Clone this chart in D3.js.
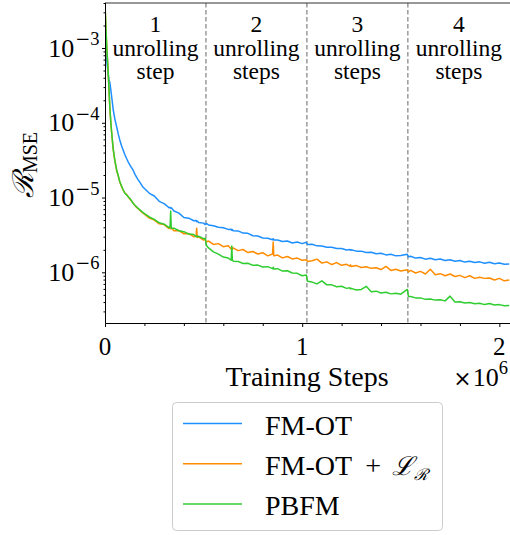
<!DOCTYPE html>
<meta charset="utf-8">
<style>
    body { margin: 0; background: #fff; }
    text { font-family: "Liberation Serif", "DejaVu Serif", serif; fill: #000; }
    .line { fill: none; stroke-width: 1.5px; stroke-linejoin: round; }
</style>
<svg width="510" height="535"></svg>
<script src="https://d3js.org/d3.v7.min.js"></script>
<script>
    // training steps, in thousands
    var steps = [
        0, 3, 6, 10, 15, 20, 25, 30, 36, 42, 50, 59, 67, 75, 83, 91, 100, 110, 120, 131, 142, 152, 165, 178, 190, 200,
        225, 250, 275, 300, 325,
        330, 333, 336, 350, 375,
        400, 425, 450, 462, 465,
        468, 475, 500, 509, 514,
        525, 550, 575, 600, 625,
        640, 643, 646, 650, 675,
        700, 725, 750, 775, 800,
        825, 850, 853, 856, 875,
        900, 925, 950, 975, 1000,
        1021, 1027, 1050, 1075, 1100,
        1125, 1150, 1175, 1200, 1225,
        1242, 1245, 1248, 1275, 1300,
        1325, 1350, 1375, 1400, 1425,
        1450, 1475, 1500, 1533, 1539,
        1550, 1575, 1600, 1625, 1650,
        1675, 1700, 1725, 1750, 1775,
        1800, 1825, 1850, 1875, 1900,
        1925, 1950, 1975, 2000, 2025,
        2050
    ];

    var fmOT = [
        1.12e-3, 1.0e-3, 8.3e-4, 6.3e-4, 4.7e-4, 3.8e-4, 3.4e-4, 2.7e-4, 2.0e-4, 1.48e-4, 1.12e-4, 8.9e-5, 7.1e-5,
        5.9e-5, 5.0e-5, 4.4e-5, 3.8e-5, 3.3e-5, 2.9e-5, 2.6e-5, 2.34e-5, 2.04e-5, 1.78e-5, 1.58e-5, 1.41e-5, 1.32e-5,
        1.14e-5, 1.05e-5, 8.9e-6, 8.3e-6, 7.3e-6,
        7.4e-6, 7.2e-6, 7.3e-6, 6.6e-6, 6.2e-6,
        5.4e-6, 5.3e-6, 4.9e-6, 4.95e-6, 4.75e-6,
        4.85e-6, 4.65e-6, 4.55e-6, 4.35e-6, 4.5e-6,
        4.3e-6, 4.2e-6, 4.0e-6, 3.95e-6, 3.75e-6,
        3.78e-6, 3.65e-6, 3.72e-6, 3.6e-6, 3.58e-6,
        3.35e-6, 3.32e-6, 3.08e-6, 3.06e-6, 2.88e-6,
        2.86e-6, 2.72e-6, 2.82e-6, 2.7e-6, 2.7e-6,
        2.58e-6, 2.62e-6, 2.47e-6, 2.55e-6, 2.42e-6,
        2.52e-6, 2.36e-6, 2.38e-6, 2.26e-6, 2.25e-6,
        2.16e-6, 2.16e-6, 2.08e-6, 2.08e-6, 1.99e-6,
        2.02e-6, 1.97e-6, 2.0e-6, 1.92e-6, 1.92e-6,
        1.84e-6, 1.86e-6, 1.77e-6, 1.8e-6, 1.71e-6,
        1.74e-6, 1.66e-6, 1.68e-6, 1.74e-6, 1.61e-6,
        1.64e-6, 1.55e-6, 1.58e-6, 1.5e-6, 1.54e-6,
        1.47e-6, 1.51e-6, 1.44e-6, 1.47e-6, 1.41e-6,
        1.44e-6, 1.37e-6, 1.41e-6, 1.35e-6, 1.38e-6,
        1.32e-6, 1.36e-6, 1.3e-6, 1.33e-6, 1.28e-6,
        1.29e-6
    ];

    var fmOTLr = [
        3.8e-3, 2.4e-3, 1.5e-3, 9.0e-4, 5.6e-4, 2.8e-4, 1.5e-4, 9.5e-5, 6.3e-5, 4.3e-5, 3.1e-5, 2.3e-5, 1.95e-5,
        1.62e-5, 1.42e-5, 1.27e-5, 1.16e-5, 1.1e-5, 1.0e-5, 9.2e-6, 8.5e-6, 7.8e-6, 7.2e-6, 6.7e-6, 6.3e-6, 6.0e-6,
        5.3e-6, 5.0e-6, 4.45e-6, 4.35e-6, 3.85e-6,
        3.98e-6, 3.82e-6, 3.92e-6, 3.6e-6, 3.62e-6,
        3.28e-6, 3.3e-6, 3.0e-6, 3.05e-6, 3.9e-6,
        2.92e-6, 2.98e-6, 2.7e-6, 2.74e-6, 2.55e-6,
        2.62e-6, 2.36e-6, 2.42e-6, 2.2e-6, 2.27e-6,
        2.05e-6, 2.16e-6, 2.02e-6, 2.12e-6, 1.95e-6,
        2.02e-6, 1.84e-6, 1.9e-6, 1.76e-6, 1.83e-6,
        1.66e-6, 1.76e-6, 2.55e-6, 1.66e-6, 1.7e-6,
        1.56e-6, 1.63e-6, 1.51e-6, 1.55e-6, 1.45e-6,
        1.47e-6, 1.4e-6, 1.43e-6, 1.5e-6, 1.33e-6,
        1.38e-6, 1.27e-6, 1.35e-6, 1.24e-6, 1.28e-6,
        1.21e-6, 1.26e-6, 1.2e-6, 1.23e-6, 1.16e-6,
        1.19e-6, 1.13e-6, 1.15e-6, 1.09e-6, 1.2e-6,
        1.06e-6, 1.1e-6, 1.04e-6, 1.08e-6, 1.01e-6,
        1.06e-6, 9.8e-7, 1.03e-6, 9.5e-7, 1.1e-6,
        9.3e-7, 9.6e-7, 9.0e-7, 9.5e-7, 8.8e-7,
        9.1e-7, 8.5e-7, 9.0e-7, 8.3e-7, 8.6e-7,
        8.3e-7, 8.4e-7, 7.9e-7, 8.3e-7, 7.7e-7,
        7.9e-7
    ];

    var pbfm = [
        3.9e-3, 2.5e-3, 1.55e-3, 9.2e-4, 5.5e-4, 2.9e-4, 1.55e-4, 9.8e-5, 6.4e-5, 4.4e-5, 3.15e-5, 2.35e-5, 1.97e-5,
        1.63e-5, 1.45e-5, 1.29e-5, 1.15e-5, 1.08e-5, 1.01e-5, 9.4e-6, 8.4e-6, 7.9e-6, 7.3e-6, 6.8e-6, 6.4e-6, 6.1e-6,
        5.5e-6, 5.1e-6, 4.6e-6, 4.4e-6, 3.95e-6,
        4.1e-6, 6.6e-6, 3.9e-6, 3.9e-6, 3.6e-6,
        3.5e-6, 3.25e-6, 3.2e-6, 3.0e-6, 3.06e-6,
        3.0e-6, 3.04e-6, 2.82e-6, 2.85e-6, 2.3e-6,
        2.12e-6, 1.88e-6, 1.75e-6, 1.6e-6, 1.55e-6,
        1.45e-6, 2.25e-6, 1.46e-6, 1.41e-6, 1.4e-6,
        1.31e-6, 1.32e-6, 1.24e-6, 1.25e-6, 1.18e-6,
        1.19e-6, 1.12e-6, 1.17e-6, 1.11e-6, 1.12e-6,
        1.04e-6, 1.05e-6, 9.8e-7, 9.7e-7, 9.0e-7,
        9.2e-7, 7.6e-7, 7.4e-7, 7.0e-7, 7.7e-7,
        6.8e-7, 6.8e-7, 6.4e-7, 6.5e-7, 6.1e-7,
        6.2e-7, 6.0e-7, 6.1e-7, 5.8e-7, 5.9e-7,
        6.5e-7, 5.5e-7, 5.6e-7, 5.3e-7, 5.4e-7,
        5.15e-7, 5.25e-7, 5.1e-7, 5.9e-7, 4.75e-7,
        4.75e-7, 4.55e-7, 4.55e-7, 4.35e-7, 4.4e-7,
        4.25e-7, 4.3e-7, 4.15e-7, 4.8e-7, 4.0e-7,
        4.05e-7, 3.9e-7, 3.95e-7, 3.8e-7, 3.85e-7,
        3.7e-7, 3.82e-7, 3.65e-7, 3.7e-7, 3.58e-7,
        3.6e-7
    ];

    var unrollStarts = [0, 512, 1024, 1536];
    var unrollEnd = 2054;
    var unrollLabels = [["1", "unrolling", "step"], ["2", "unrolling", "steps"],
        ["3", "unrolling", "steps"], ["4", "unrolling", "steps"]];

    var xMajorTicks = [0, 1000, 2000];
    var xMajorLabels = ["0", "1", "2"];
    var xMinorTicks = [200, 400, 600, 800, 1200, 1400, 1600, 1800];
    var yDecades = [1e-6, 1e-5, 1e-4, 1e-3];
    var yExponents = ["6", "5", "4", "3"];

    var seriesNames = ["FM-OT", "FM-OT", "PBFM"];
    var seriesColors = ["#1e8fff", "#ff8c00", "#30cd30"];

    var svg = d3.select("svg");

    var x = d3.scaleLinear().domain([0, unrollEnd]).range([105, 510]);
    var y = d3.scaleLog().domain([2.1e-7, 4.0e-3]).range([323, 3]);

    // minor y ticks
    var yMinor = [];
    [1e-7, 1e-6, 1e-5, 1e-4, 1e-3].forEach(function (d) {
        for (var k = 2; k <= 9; k++) {
            var v = d * k;
            if (v >= y.domain()[0] && v <= y.domain()[1]) yMinor.push(v);
        }
    });

    svg.append("defs").append("clipPath").attr("id", "plot")
        .append("rect").attr("x", 105).attr("y", 3).attr("width", 405).attr("height", 320);

    // dashed lines at unrolling switches
    svg.append("g").selectAll("line")
        .data(unrollStarts.slice(1))
        .enter().append("line")
        .attr("x1", d => x(d)).attr("x2", d => x(d))
        .attr("y1", 3).attr("y2", 323)
        .attr("stroke", "#808080")
        .attr("stroke-width", 1.2)
        .attr("stroke-dasharray", "4.5,2.5");

    // region annotations
    var ann = svg.append("g");
    unrollLabels.forEach(function (lines, i) {
        var end = i < 3 ? unrollStarts[i + 1] : unrollEnd;
        var cx = x((unrollStarts[i] + end) / 2);
        lines.forEach(function (t, j) {
            ann.append("text")
                .attr("x", cx)
                .attr("y", 32 + j * 23.5)
                .attr("text-anchor", "middle")
                .attr("font-size", 23.5)
                .text(t);
        });
    });

    // series
    var line = d3.line()
        .x((d, i) => x(steps[i]))
        .y(d => y(d));

    var lines = svg.append("g").attr("clip-path", "url(#plot)");
    [fmOT, fmOTLr, pbfm].forEach(function (s, i) {
        lines.append("path")
            .datum(s)
            .attr("class", "line")
            .attr("stroke", seriesColors[i])
            .attr("d", line);
    });

    // spines
    svg.append("line").attr("x1", 105).attr("x2", 510).attr("y1", 3).attr("y2", 3)
        .attr("stroke", "#333").attr("stroke-width", 1.2);

    var xAxis = svg.append("g").attr("transform", "translate(0,323.5)");
    xAxis.call(d3.axisBottom(x).tickValues(xMajorTicks).tickSize(3.5).tickFormat(""));
    xAxis.append("g").call(d3.axisBottom(x).tickValues(xMinorTicks).tickSize(2.5).tickFormat(""))
        .select(".domain").remove();
    xAxis.select(".domain").attr("d", "M105.5,0H510");

    xAxis.selectAll(".tickLbl")
        .data(xMajorTicks)
        .enter().append("text")
        .attr("x", d => x(d))
        .attr("y", 31)
        .attr("text-anchor", "middle")
        .attr("font-size", 25)
        .text((d, i) => xMajorLabels[i]);

    var yAxis = svg.append("g").attr("transform", "translate(105.5,0)");
    yAxis.call(d3.axisLeft(y).tickValues(yDecades).tickSize(3.5).tickFormat(""));
    yAxis.append("g").call(d3.axisLeft(y).tickValues(yMinor).tickSize(2).tickFormat(""))
        .select(".domain").remove();
    yAxis.select(".domain").attr("d", "M0,3V323.5");

    yDecades.forEach(function (d, i) {
        var t = yAxis.append("text")
            .attr("x", -6)
            .attr("y", y(d) + 8.5)
            .attr("text-anchor", "end")
            .attr("font-size", 26);
        t.append("tspan").text("10");
        t.append("tspan").attr("font-family", "DejaVu Serif").attr("font-size", 18)
            .attr("dx", 1).attr("dy", -11.5).text("−");
        t.append("tspan").attr("font-size", 18.5).text(yExponents[i]);
    });

    svg.selectAll(".tick line").attr("stroke", "#000");

    // axis labels
    var yl = svg.append("text")
        .attr("transform", "translate(33,165) rotate(-90)")
        .attr("text-anchor", "middle");
    yl.append("tspan").attr("font-family", "DejaVu Serif").attr("font-style", "italic")
        .attr("font-size", 29).text("ℛ");
    yl.append("tspan").attr("font-size", 20).attr("dy", 4).text("MSE");

    svg.append("text")
        .attr("x", 307).attr("y", 386)
        .attr("text-anchor", "middle")
        .attr("font-size", 28)
        .text("Training Steps");

    var mult = svg.append("text")
        .attr("x", 508).attr("y", 386)
        .attr("text-anchor", "end")
        .attr("font-size", 26);
    mult.append("tspan").attr("font-family", "DejaVu Serif").attr("font-size", 22).text("×");
    mult.append("tspan").attr("dx", 1).text("10");
    mult.append("tspan").attr("font-size", 18.5).attr("dy", -12).text("6");

    // legend
    var lg = svg.append("g");
    lg.append("rect")
        .attr("x", 172.5).attr("y", 402.5)
        .attr("width", 270).attr("height", 128)
        .attr("rx", 4)
        .attr("fill", "#fff")
        .attr("stroke", "#cccccc");

    seriesNames.forEach(function (name, i) {
        var ly = 423.5 + i * 40.3;
        lg.append("line")
            .attr("x1", 183).attr("x2", 242)
            .attr("y1", ly).attr("y2", ly)
            .attr("stroke", seriesColors[i])
            .attr("stroke-width", 1.5);
        var t = lg.append("text")
            .attr("x", 265).attr("y", ly + 11)
            .attr("font-size", 28);
        t.append("tspan").text(name);
        if (i === 1) {
            t.append("tspan").attr("dx", 13).text("+");
            t.append("tspan").attr("font-family", "DejaVu Serif").attr("font-style", "italic")
                .attr("dx", 11).attr("font-size", 26).text("ℒ");
            t.append("tspan").attr("font-family", "DejaVu Serif").attr("font-style", "italic")
                .attr("font-size", 16).attr("dy", 5).text("ℛ");
        }
    });
</script>
